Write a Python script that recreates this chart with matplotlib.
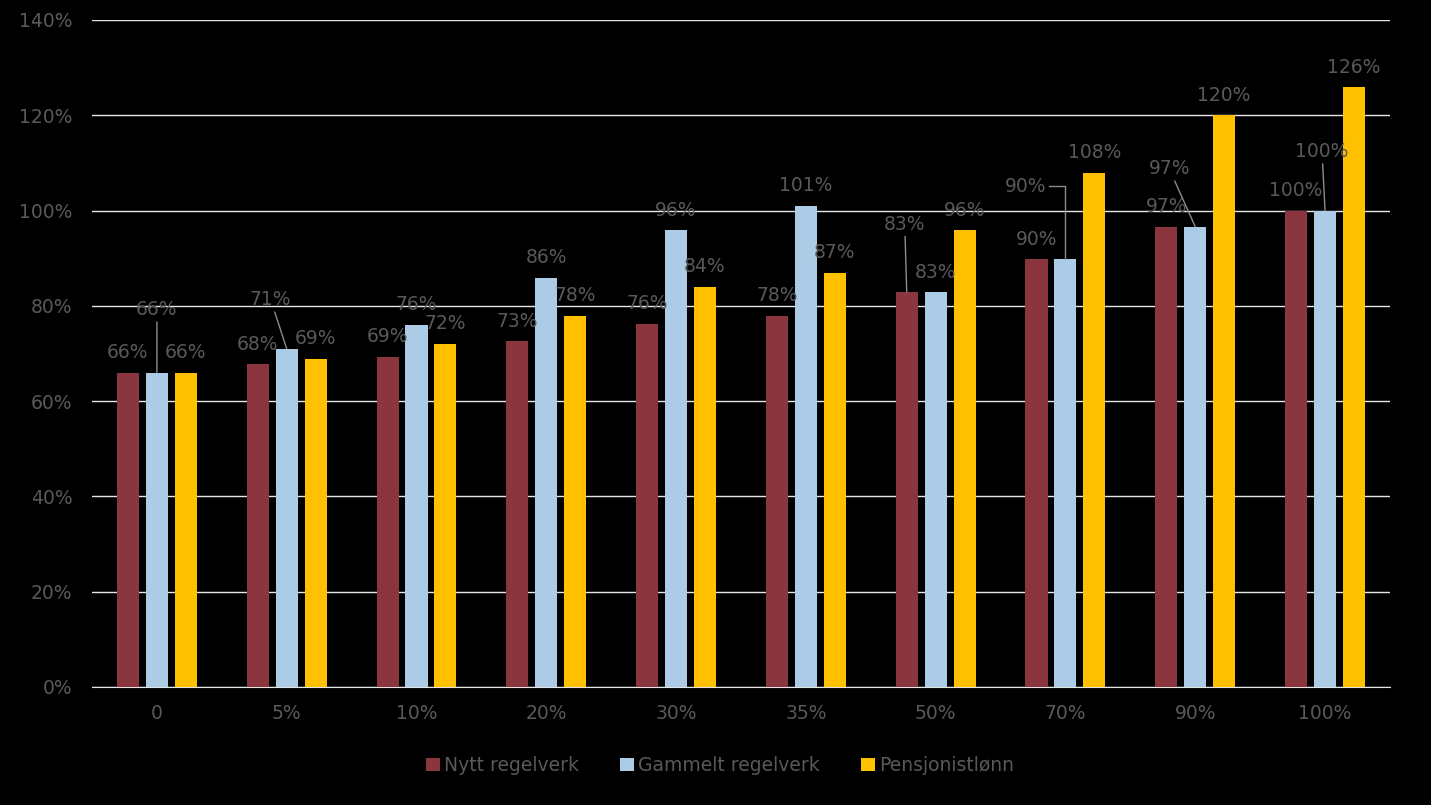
import numpy as np
import matplotlib
matplotlib.use("Agg")
from matplotlib import pyplot as plt

categories = ["0", "5%", "10%", "20%", "30%", "35%", "50%", "70%", "90%", "100%"]
nytt = [66, 67.7, 69.3, 72.6, 76.2, 77.9, 82.9, 89.8, 96.6, 100]
gammelt = [66, 71, 76, 85.9, 95.9, 101, 82.9, 89.8, 96.6, 100]
pensjonist = [66, 68.9, 72, 77.9, 84, 86.9, 95.9, 107.9, 120, 125.9]
series_names = ["Nytt regelverk", "Gammelt regelverk", "Pensjonistlønn"]

colors = ["#8B353F", "#ACCBE6", "#FFC000"]
text_col = "#595959"
lead_col = "#8c8c8c"

# label offsets in pixels (dx, dy) for labels that were moved, keyed (series, group)
moved = {
    (1, 0): (0, 63),
    (1, 1): (-16, 49),
    (0, 6): (-2, 68),
    (1, 7): (-40, 73),
    (1, 8): (-26, 58),
    (1, 9): (-3, 59),
}

fig = plt.figure(figsize=(14.31, 8.05), dpi=100, facecolor="black")
ax = fig.add_axes([0.0643, 0.1466, 0.907, 0.8286])
ax.set_facecolor("black")

x = np.arange(len(categories))
w = 0.17
off = 0.223
all_series = [nytt, gammelt, pensjonist]
for i, vals in enumerate(all_series):
    ax.bar(x + (i - 1) * off, vals, width=w, color=colors[i], label=series_names[i], zorder=3)

for i, vals in enumerate(all_series):
    for j, v in enumerate(vals):
        xb = x[j] + (i - 1) * off
        lab = "%d%%" % round(v)
        if (i, j) in moved:
            dx, dy = moved[(i, j)]
            if (i, j) == (1, 7):
                ap = dict(arrowstyle="-", color=lead_col, lw=1, shrinkA=0, shrinkB=0,
                          relpos=(1, 0.5), connectionstyle="angle,angleA=0,angleB=90,rad=0")
            else:
                ap = dict(arrowstyle="-", color=lead_col, lw=1, shrinkA=0, shrinkB=0)
            ax.annotate(lab, xy=(xb, v), xytext=(dx, dy), textcoords="offset pixels",
                        ha="center", va="center", fontsize=13.5, color=text_col,
                        arrowprops=ap, zorder=4)
        else:
            ax.annotate(lab, xy=(xb, v), xytext=(0, 20), textcoords="offset pixels",
                        ha="center", va="center", fontsize=13.5, color=text_col, zorder=4)

ax.set_xlim(-0.5, 9.5)
ax.set_ylim(0, 140)
ax.set_yticks(np.arange(0, 141, 20))
ax.set_yticklabels(["%d%%" % t for t in range(0, 141, 20)])
ax.set_xticks(x)
ax.set_xticklabels(categories)
ax.tick_params(axis="both", length=0, labelsize=13.5, labelcolor=text_col)
ax.tick_params(axis="y", pad=14)
ax.tick_params(axis="x", pad=12)
ax.grid(axis="y", color="#e6e6e6", lw=1, zorder=0)
for s in ["top", "right", "left"]:
    ax.spines[s].set_visible(False)
ax.spines["bottom"].set_color("#e6e6e6")

leg = fig.legend(loc="center", bbox_to_anchor=(0.503, 0.049), ncol=3, frameon=False,
                 handlelength=0.75, handleheight=0.75, handletextpad=0.2,
                 columnspacing=2.2, fontsize=13.5)
for t in leg.get_texts():
    t.set_color(text_col)

fig.savefig("out.png", dpi=100, facecolor="black")
